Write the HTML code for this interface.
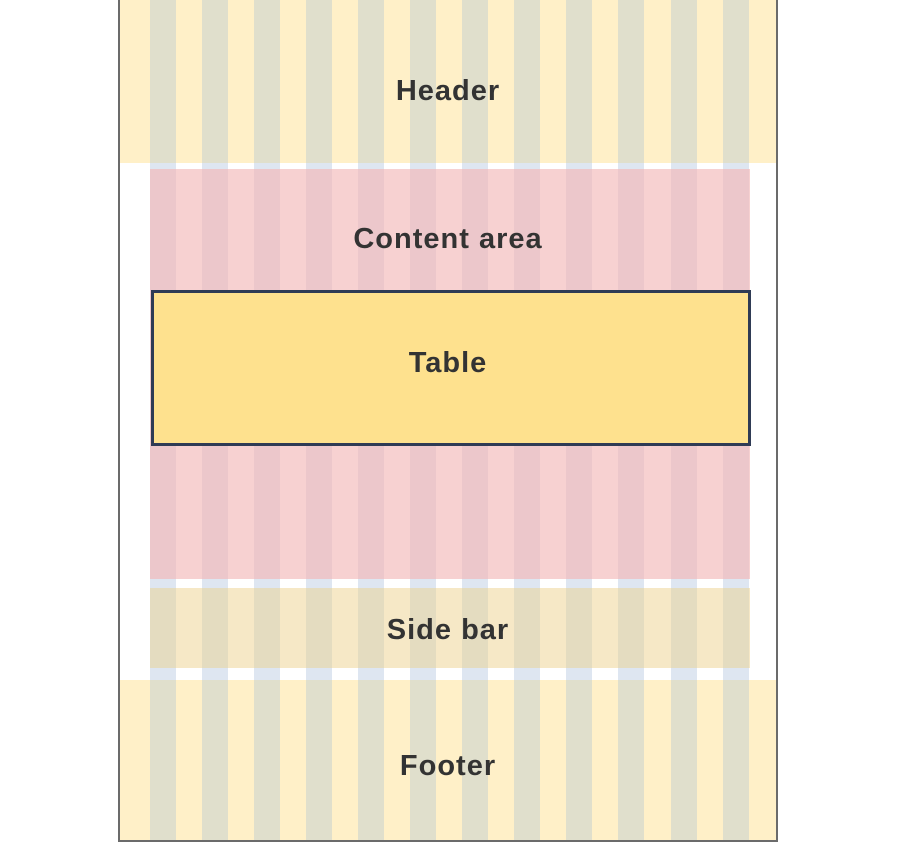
<!DOCTYPE html>
<html><head><meta charset="utf-8"><style>
body{margin:0;width:900px;height:840px;background:#fff;position:relative;overflow:hidden;font-family:"Liberation Sans",sans-serif}
div{position:absolute;box-sizing:border-box}
.lbl{left:0;right:4px;text-align:center;color:#333;font-size:29px;font-weight:bold;letter-spacing:1px}
</style></head><body>
<div style="left:118px;top:-2px;width:660px;height:844px;border:2px solid #6b6b6b;"></div>
<div id="layers"></div>
<div style="left:151px;top:290px;width:600px;height:156px;background:#fee18e;border:3px solid #2f3b55;z-index:5"></div>
<div class="lbl" style="top:75px;z-index:6">Header</div>
<div class="lbl" style="top:223px;z-index:6">Content area</div>
<div class="lbl" style="top:347px;z-index:6">Table</div>
<div class="lbl" style="top:614px;z-index:6">Side bar</div>
<div class="lbl" style="top:750px;z-index:6">Footer</div>
<script>
const L=document.getElementById('layers');
const bands=[
 ['gap-1',150,750,163,169,'#ffffff','#dee6f1'],
 ['gap-2',150,750,579,588,'#ffffff','#dee6f1'],
 ['gap-3',150,750,668,680,'#ffffff','#dee6f1'],
 ['header-band',120,776,0,163,'#fff0c8','#e0dfcc'],
 ['content-area-band',151,750,169,579,'#f7d1d1','#ecc7cb'],
 ['side-bar-band',151,750,588,668,'#f6e8c6','#e4dcc0'],
 ['footer-band',120,776,680,840,'#fff0c8','#e0dfcc']
];
for(const b of bands){
 const d=document.createElement('div');
 
 
 d.style.cssText=`left:${b[1]}px;top:${b[3]}px;width:${b[2]-b[1]}px;height:${b[4]-b[3]}px;background:${b[5]}`;
 L.appendChild(d);
 for(let i=0;i<12;i++){
  const x=149.5+i*52.1;
  const c=document.createElement('div');
  
  
  c.style.cssText=`left:${x}px;top:${b[3]}px;width:26px;height:${b[4]-b[3]}px;background:${b[6]}`;
  L.appendChild(c);
 }
}
</script>
</body></html>
